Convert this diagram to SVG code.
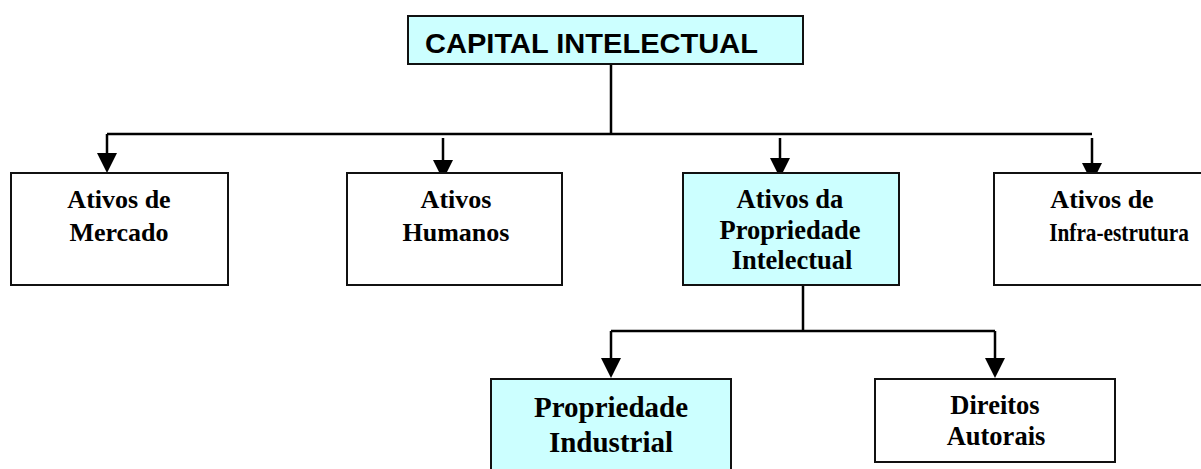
<svg xmlns="http://www.w3.org/2000/svg" width="1201" height="469" viewBox="0 0 1201 469">
<style>
.box{fill:#fff;stroke:#111;stroke-width:2}
.hl{fill:#ccffff}
.ln{stroke:#000;stroke-width:2.5;fill:none}
.ah{fill:#000}
.t{font-family:"Liberation Serif","Times New Roman",serif;font-weight:bold;font-size:26px;fill:#000;text-anchor:middle}
.ti{font-family:"Liberation Sans",Arial,sans-serif;font-weight:bold;font-size:28px;fill:#000}
</style>
<rect width="1201" height="469" fill="#fff"/>
<g id="connectors">
<path class="ln" d="M611 64V134M107 134H1092M107 134V155M443 138V162M780 138V160M1092 138V165"/>
<polygon class="ah" points="97,153 117,153 107,173"/>
<polygon class="ah" points="433,160 453,160 443,180"/>
<polygon class="ah" points="770,158 790,158 780,178"/>
<polygon class="ah" points="1082,163 1102,163 1092,183"/>
<path class="ln" d="M803 285V331M611 331H995M611 331V360M995 331V360"/>
<polygon class="ah" points="601,358 621,358 611,378"/>
<polygon class="ah" points="985,358 1005,358 995,378"/>
</g>
<g id="capital">
<rect class="box hl" x="408" y="16" width="395" height="48"/>
<text class="ti" x="425" y="53" textLength="333" lengthAdjust="spacingAndGlyphs">CAPITAL INTELECTUAL</text>
</g>
<g id="mercado">
<rect class="box" x="11" y="173" width="217" height="112"/>
<text class="t" x="119" y="208">Ativos de</text>
<text class="t" x="119" y="241">Mercado</text>
</g>
<g id="humanos">
<rect class="box" x="347" y="173" width="215" height="112"/>
<text class="t" x="456" y="208">Ativos</text>
<text class="t" x="456" y="241">Humanos</text>
</g>
<g id="propint">
<rect class="box hl" x="683" y="173" width="216" height="112"/>
<text class="t" x="790" y="208" style="font-size:26.5px">Ativos da</text>
<text class="t" x="790" y="239" style="font-size:26.5px">Propriedade</text>
<text class="t" x="792" y="269" style="font-size:26.5px">Intelectual</text>
</g>
<g id="infra">
<rect class="box" x="994" y="173" width="218" height="112"/>
<text class="t" x="1102" y="208">Ativos de</text>
<text class="t" transform="translate(1119,241) scale(0.82,1)" x="0" y="0">Infra-estrutura</text>
</g>
<g id="propind">
<rect class="box hl" x="491" y="379" width="240" height="100"/>
<text class="t" x="611" y="417" style="font-size:29px">Propriedade</text>
<text class="t" x="611" y="452" style="font-size:29px">Industrial</text>
</g>
<g id="direitos">
<rect class="box" x="875" y="379" width="240" height="83"/>
<text class="t" x="995" y="414" style="font-size:26.5px">Direitos</text>
<text class="t" x="996" y="445" style="font-size:26.5px">Autorais</text>
</g>
</svg>
